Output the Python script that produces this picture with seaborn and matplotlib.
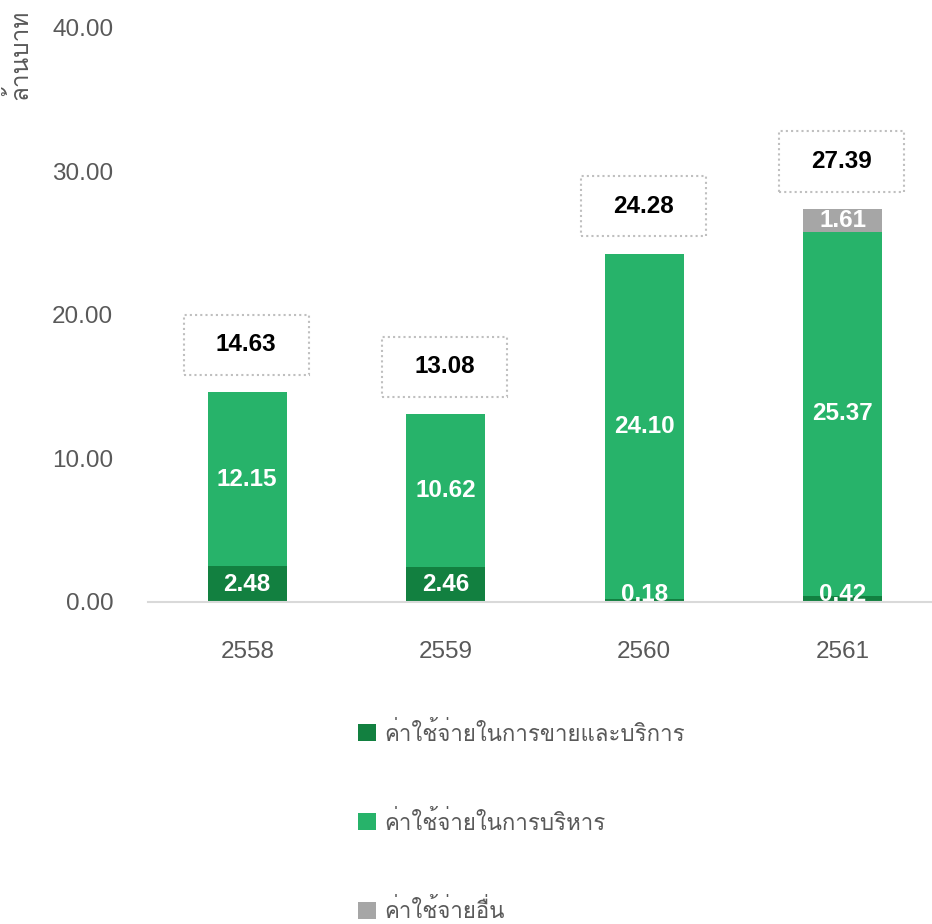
import numpy as np
import pandas as pd
import matplotlib
matplotlib.use('Agg')
import matplotlib.pyplot as plt
from matplotlib import font_manager
from matplotlib.ft2font import FT2Font
from matplotlib.patches import Rectangle
import seaborn as sns

# ข้อมูล (ล้านบาท)
years = ['2558', '2559', '2560', '2561']
sales_exp = [2.48, 2.46, 0.18, 0.42]
admin_exp = [12.15, 10.62, 24.10, 25.37]
other_exp = [0.00, 0.00, 0.00, 1.61]
totals = [14.63, 13.08, 24.28, 27.39]
labels = ['ค่าใช้จ่ายในการขายและบริการ', 'ค่าใช้จ่ายในการบริหาร', 'ค่าใช้จ่ายอื่น']
colors = ['#128040', '#27B36A', '#A6A6A6']


# หาฟอนต์ที่มีอักษรไทย
def find_thai_font():
    for f in font_manager.fontManager.ttflist:
        try:
            if 0x0E04 in FT2Font(f.fname).get_charmap():
                return f.name
        except Exception:
            pass
    return None


sns.set_style('white')
thai = find_thai_font()
fams = ['Liberation Sans'] + ([thai] if thai else []) + ['DejaVu Sans']
plt.rcParams['font.family'] = fams

df = pd.DataFrame({'year': years, 'sales': sales_exp, 'admin': admin_exp, 'other': other_exp})
df['lvl2'] = df['sales'] + df['admin']
df['lvl3'] = df['lvl2'] + df['other']

fig = plt.figure(figsize=(9.32, 9.24), dpi=100)
ax = fig.add_axes([0.1588, 0.3485, 0.8412, 0.6212])

# วาดแบบซ้อนทับ: ยอดรวมก่อน แล้วค่อยทับด้วยชั้นล่าง
sns.barplot(data=df, x='year', y='lvl3', color=colors[2], width=0.4, saturation=1, ax=ax, label=labels[2])
sns.barplot(data=df, x='year', y='lvl2', color=colors[1], width=0.4, saturation=1, ax=ax, label=labels[1])
sns.barplot(data=df, x='year', y='sales', color=colors[0], width=0.4, saturation=1, ax=ax, label=labels[0])
for p in ax.patches:
    p.set_linewidth(0)

ax.set_ylim(0, 40)
ax.set_xlim(-0.5, 3.45)
ax.set_yticks([0, 10, 20, 30, 40])
ax.set_yticklabels([f'{v:.2f}' for v in [0, 10, 20, 30, 40]])
ax.set_xlabel('')
ax.set_ylabel('')
ax.tick_params(axis='both', length=0, labelsize=17.5, labelcolor='#595959')
ax.tick_params(axis='y', pad=25)
ax.tick_params(axis='x', pad=28)
for s in ['top', 'right', 'left']:
    ax.spines[s].set_visible(False)
ax.spines['bottom'].set_color('#D9D9D9')
ax.spines['bottom'].set_linewidth(1.5)

# ป้ายค่าในแต่ละส่วน
for i in range(len(years)):
    segs = [(0, sales_exp[i]), (sales_exp[i], admin_exp[i]), (sales_exp[i] + admin_exp[i], other_exp[i])]
    for base, h in segs:
        if h <= 0:
            continue
        if h < 1.0:
            ax.text(i, base - 0.25, f'{h:.2f}', ha='center', va='bottom', color='white',
                    fontsize=17.5, fontweight='bold')
        else:
            ax.text(i, base + h / 2, f'{h:.2f}', ha='center', va='center', color='white',
                    fontsize=17.5, fontweight='bold')
    # กล่องยอดรวม
    yc = totals[i] + 3.3
    ax.add_patch(Rectangle((i - 0.32, yc - 2.1), 0.63, 4.2, fill=False, edgecolor='#BFBFBF',
                           linestyle=(0, (1, 1.5)), linewidth=1.5, clip_on=False))
    ax.text(i - 0.005, yc, f'{totals[i]:.2f}', ha='center', va='center', color='black',
            fontsize=17.5, fontweight='bold')

fig.text(0.02, 0.99, 'ล้านบาท', rotation=90, ha='center', va='top', fontsize=17.5, color='#595959')

handles, labs = ax.get_legend_handles_labels()
order = [labs.index(l) for l in labels]
ax.legend([handles[k] for k in order], labels, loc='upper left', bbox_to_anchor=(0.384, 0.219),
          bbox_transform=fig.transFigure, frameon=False, fontsize=16, labelcolor='#595959',
          handlelength=0.8, handleheight=0.8, handletextpad=0.4, labelspacing=2.92,
          borderpad=0, borderaxespad=0)

fig.savefig('out.png', dpi=100)
